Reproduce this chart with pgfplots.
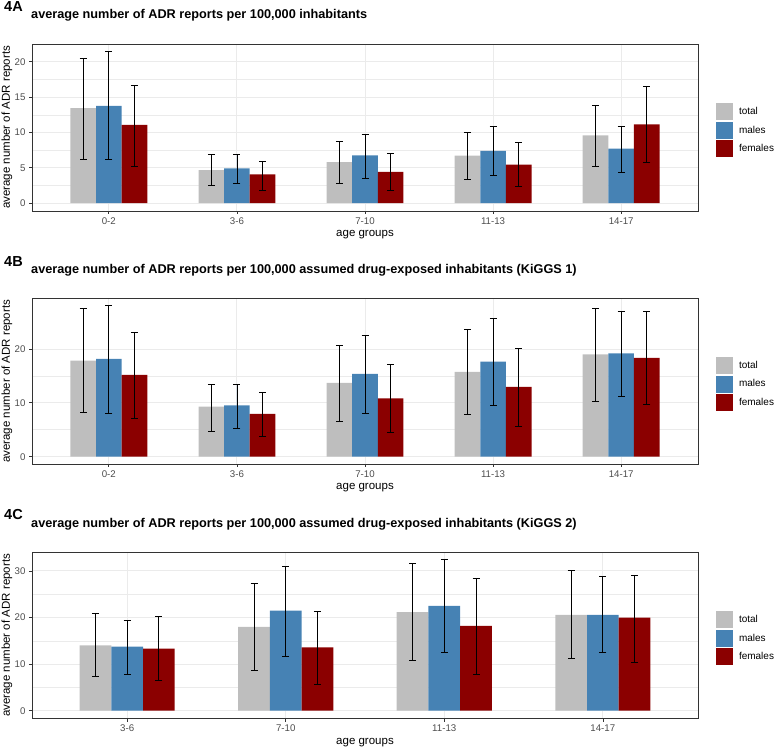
\documentclass[border=0pt]{standalone}
\usepackage{fontspec}
\setmainfont{Liberation Sans}
\usepackage{pgfplots}
\usepackage{pgfplotstable}
\pgfplotsset{compat=1.18}
\definecolor{cTotal}{HTML}{BEBEBE}
\definecolor{cMale}{HTML}{4682B4}
\definecolor{cFemale}{HTML}{8B0000}
\definecolor{cGrid}{HTML}{EBEBEB}
\definecolor{cBorder}{HTML}{333333}
\definecolor{cTick}{HTML}{4D4D4D}

% Panel A
\pgfplotstableread{
x y lo hi
0.8 13.43 6.20 20.40
1.8 4.68 2.50 6.90
2.8 5.82 2.80 8.70
3.8 6.73 3.37 9.95
4.8 9.58 5.22 13.85
}\Atotal
\pgfplotstableread{
x y lo hi
1 13.76 6.15 21.40
2 4.92 2.80 6.90
3 6.77 3.50 9.74
4 7.40 3.94 10.80
5 7.73 4.36 10.90
}\Amales
\pgfplotstableread{
x y lo hi
1.2 11.06 5.25 16.70
2.2 4.07 1.75 5.96
3.2 4.44 1.75 7.00
4.2 5.46 2.33 8.58
5.2 11.14 5.83 16.50
}\Afemales
% Panel B
\pgfplotstableread{
x y lo hi
0.8 17.83 8.24 27.49
1.8 9.29 4.71 13.50
2.8 13.69 6.63 20.60
3.8 15.73 7.87 23.60
4.8 19.00 10.34 27.60
}\Btotal
\pgfplotstableread{
x y lo hi
1 18.14 8.11 28.05
2 9.54 5.27 13.50
3 15.36 8.11 22.54
4 17.65 9.60 25.70
5 19.20 11.20 26.90
}\Bmales
\pgfplotstableread{
x y lo hi
1.2 15.17 7.19 23.03
2.2 7.93 3.78 11.96
3.2 10.84 4.53 17.08
4.2 12.94 5.64 20.06
5.2 18.33 9.66 26.90
}\Bfemales
% Panel C
\pgfplotstableread{
x y lo hi
0.8 14.04 7.31 20.83
1.8 17.97 8.60 27.28
2.8 21.13 10.74 31.65
3.8 20.55 11.25 30.07
}\Ctotal
\pgfplotstableread{
x y lo hi
1 13.75 7.80 19.33
2 21.48 11.60 31.05
3 22.48 12.60 32.43
4 20.55 12.46 28.78
}\Cmales
\pgfplotstableread{
x y lo hi
1.2 13.32 6.45 20.19
2.2 13.60 5.73 21.25
3.2 18.19 7.80 28.35
4.2 20.00 10.39 29.14
}\Cfemales

\tikzset{tagfont/.style={anchor=base west, inner sep=0pt, xshift=-28pt,
    font=\bfseries\fontsize{14.5}{16}\selectfont}}

\pgfplotsset{
  panel/.style={
    scale only axis, width=666pt, anchor=south west, clip=false,
    axis line style={cBorder, line width=0.9pt},
    xmajorgrids, ymajorgrids, yminorgrids, minor y tick num=1,
    major grid style={cGrid, line width=0.9pt},
    minor grid style={cGrid, line width=0.5pt},
    tick align=outside, tick pos=left,
    major tick length=3pt, minor tick length=0pt,
    tick style={cBorder, line width=0.7pt},
    tick label style={font=\fontsize{9.7}{11}\selectfont, text=cTick},
    /pgf/number format/assume math mode=true,
    xlabel={age groups},
    ylabel={average number of ADR reports},
    label style={font=\fontsize{11.5}{13}\selectfont, text=black},
    xlabel style={at={(axis description cs:0.5,0)}, anchor=center, yshift=-24pt},
    ylabel style={at={(axis description cs:-0.0375,0.5)}, anchor=center},
    title style={at={(axis description cs:0,1)}, anchor=base west, inner sep=0pt,
      xshift=-1pt, yshift=19pt, font=\bfseries\fontsize{12.7}{14}\selectfont},
    legend style={at={(1,0.5)}, anchor=west, xshift=18pt, yshift=-2.7pt,
      draw=none, fill=none, inner sep=0pt, outer sep=0pt, row sep=1.3pt,
      font=\fontsize{10}{12}\selectfont, nodes={inner sep=0pt},
      /tikz/every odd column/.append style={column sep=6pt}},
    legend cell align=left,
    legend image code/.code={\fill[##1] (0pt,-8.5pt) rectangle (17pt,8.5pt);},
  },
  bars/.style={ybar, bar width=0.2, bar shift=0pt, draw=none, fill=#1,
    error bars/.cd, y dir=both, y explicit,
    error bar style={draw=black, line width=0.75pt},
    error mark options={draw=black, line width=0.75pt, mark size=3.5pt, rotate=90}},
  /pgfplots/table/errtab/.style={x=x, y=y, y error plus expr=\thisrow{hi}-\thisrow{y},
    y error minus expr=\thisrow{y}-\thisrow{lo}},
}

\begin{document}
\begin{tikzpicture}
\useasboundingbox (0pt,0pt) rectangle (777pt,751pt);
% ---------- 4A ----------
\begin{axis}[panel, at={(32pt,540pt)}, height=167pt,
  xmin=0.4, xmax=5.6, ymin=-1.1, ymax=22.5,
  xtick={1,2,3,4,5}, xticklabels={0-2,3-6,7-10,11-13,14-17},
  ytick={0,5,10,15,20},
  title={average number of ADR reports per 100,000 inhabitants}]
\addplot[bars=cTotal] table[errtab] {\Atotal};
\addlegendentry{total}
\addplot[bars=cMale] table[errtab] {\Amales};
\addlegendentry{males}
\addplot[bars=cFemale] table[errtab] {\Afemales};
\addlegendentry{females}
\node[tagfont, yshift=32pt] at (rel axis cs:0,1) {4A};
\end{axis}
% ---------- 4B ----------
\begin{axis}[panel, at={(32pt,287pt)}, height=165.3pt,
  xmin=0.4, xmax=5.6, ymin=-1.36, ymax=29.34,
  xtick={1,2,3,4,5}, xticklabels={0-2,3-6,7-10,11-13,14-17},
  ytick={0,10,20},
  title={average number of ADR reports per 100,000 assumed drug-exposed inhabitants (KiGGS 1)}]
\addplot[bars=cTotal] table[errtab] {\Btotal};
\addlegendentry{total}
\addplot[bars=cMale] table[errtab] {\Bmales};
\addlegendentry{males}
\addplot[bars=cFemale] table[errtab] {\Bfemales};
\addlegendentry{females}
\node[tagfont, yshift=32.5pt] at (rel axis cs:0,1) {4B};
\end{axis}
% ---------- 4C ----------
\begin{axis}[panel, at={(32pt,32.3pt)}, height=166.4pt,
  xmin=0.4, xmax=4.6, ymin=-1.72, ymax=34.0,
  xtick={1,2,3,4}, xticklabels={3-6,7-10,11-13,14-17},
  ytick={0,10,20,30},
  title={average number of ADR reports per 100,000 assumed drug-exposed inhabitants (KiGGS 2)}]
\addplot[bars=cTotal] table[errtab] {\Ctotal};
\addlegendentry{total}
\addplot[bars=cMale] table[errtab] {\Cmales};
\addlegendentry{males}
\addplot[bars=cFemale] table[errtab] {\Cfemales};
\addlegendentry{females}
\node[tagfont, yshift=33pt] at (rel axis cs:0,1) {4C};
\end{axis}
\end{tikzpicture}
\end{document}
